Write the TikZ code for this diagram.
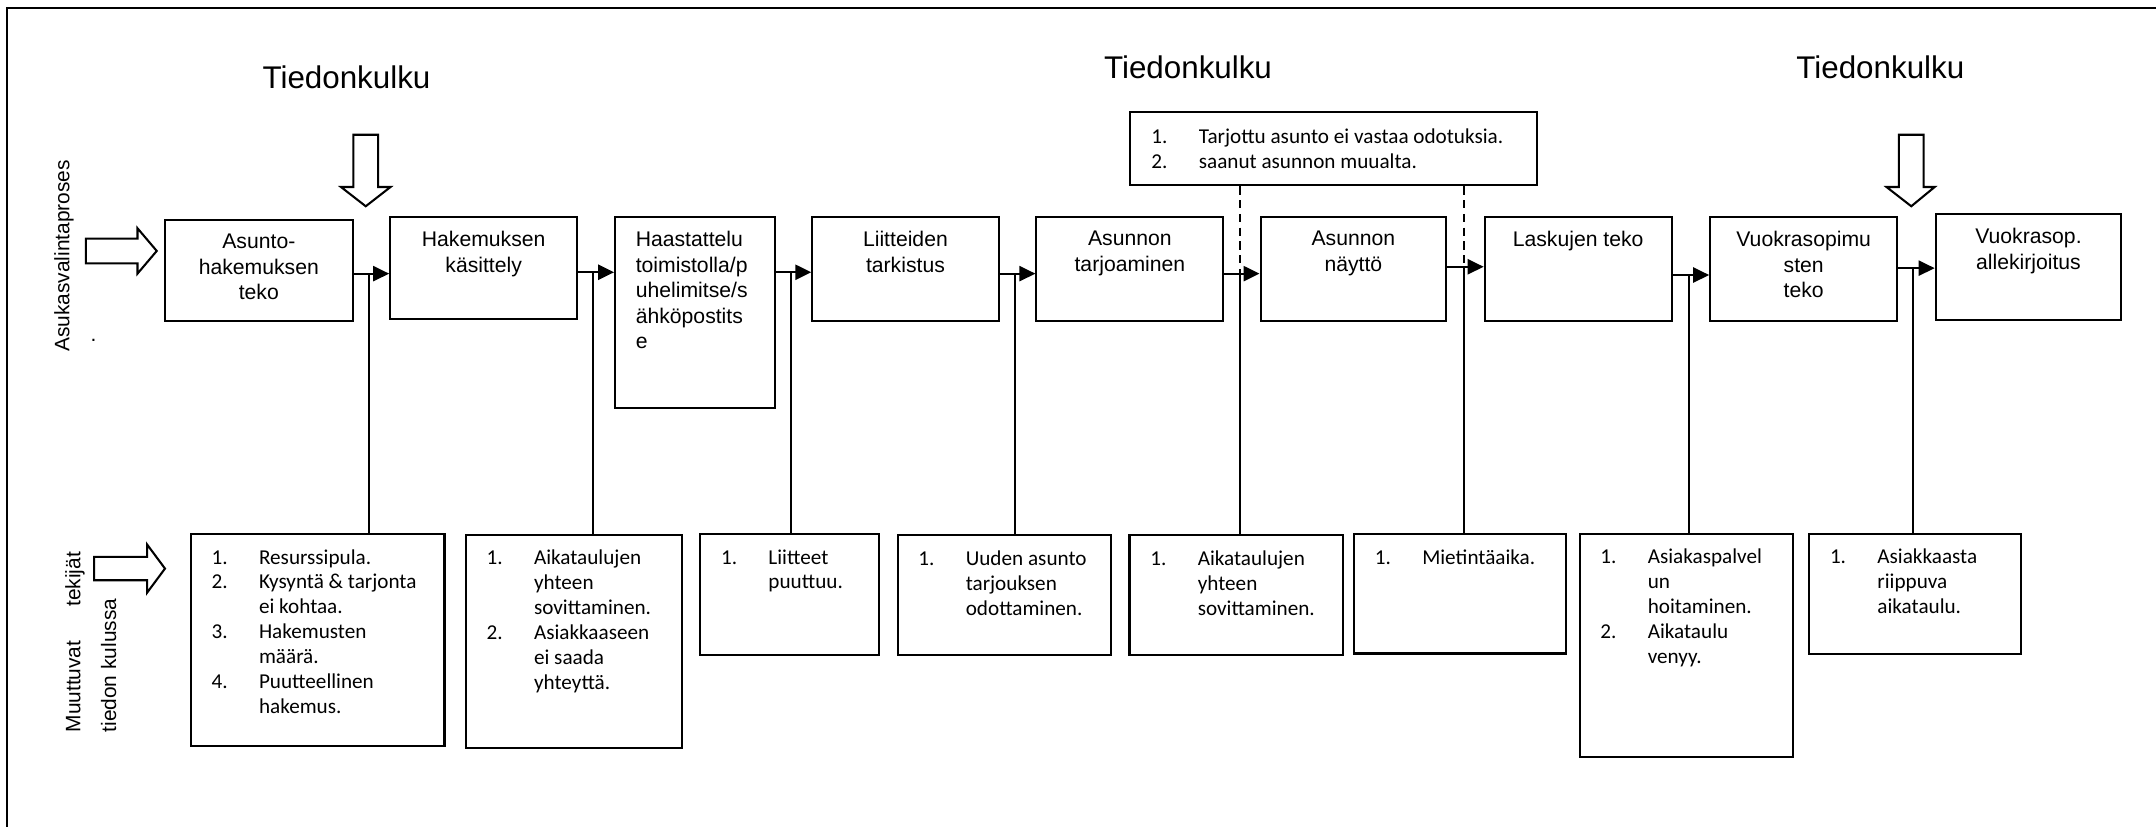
\documentclass[tikz,border=0pt]{standalone}
\usepackage{fontspec}
\setmainfont{Liberation Sans}
\newfontfamily\calibri{Carlito}
\usetikzlibrary{arrows.meta}
\newcommand{\toptxt}{\fontsize{7.7}{9.3}\selectfont}
\newcommand{\listtxt}{\calibri\fontsize{7.7}{9.05}\selectfont}
\newcommand{\points}[1]{\begin{tabular}{@{}p{17.25pt}@{}l@{}}#1\end{tabular}}
\begin{document}
\begin{tikzpicture}[x=0.5pt, y=-0.5pt,
    box/.style={draw, line width=0.75pt, anchor=north west, inner sep=0pt},
    boxtxt/.style={anchor=north, align=center, font=\toptxt, inner xsep=0pt, inner ysep=5.4pt},
    lefttxt/.style={anchor=north west, align=left, font=\toptxt, inner xsep=7.7pt, inner ysep=5.4pt},
    listtxt/.style={anchor=north west, font=\listtxt, inner xsep=7.75pt, inner ysep=4.8pt},
    flow/.style={line width=0.75pt, -{Triangle[length=5.8pt,width=5.5pt]}},
    hollow/.style={draw, line width=0.75pt, fill=white},
    title/.style={font=\fontsize{11.4}{13}\selectfont, anchor=base, inner sep=0pt},
    side/.style={font=\fontsize{7.6}{13}\selectfont, rotate=90, inner sep=0pt}]
  \useasboundingbox (0,0) rectangle (1568,601);
  \draw[line width=0.85pt] (5,6) rectangle (1620,650);

  \node[title] (tk1) at (252,64) {Tiedonkulku};
  \node[title] (tk2) at (864,57) {Tiedonkulku};
  \node[title] (tk3) at (1367.5,57) {Tiedonkulku};

  \node[side] (prosessi) at (46.5,186) {Asukasvalintaproses};
  \node[side, anchor=north west, align=left] (muuttuvat) at (47,533)
    {Muuttuvat\hspace{12.3pt}tekijät\\tiedon kulussa};
  \node[font=\fontsize{7.6}{9}\selectfont, anchor=base, inner sep=0pt] (piste) at (68,248) {.};

  % prosessin vaiheet
  \node[box, minimum width=68.5pt, minimum height=37pt,
    label={[boxtxt]north:Asunto-\\hakemuksen\\teko}] (p1) at (119,159) {};
  \node[box, minimum width=68pt, minimum height=37pt,
    label={[boxtxt]north:Hakemuksen\\käsittely}] (p2) at (283,157) {};
  \node[box, minimum width=58.2pt, minimum height=69.5pt,
    label={[lefttxt]north west:Haastattelu\\toimistolla/p\\uhelimitse/s\\ähköpostits\\e}] (p3) at (446.6,157) {};
  \node[box, minimum width=67.75pt, minimum height=38pt,
    label={[boxtxt]north:Liitteiden\\tarkistus}] (p4) at (590,157) {};
  \node[box, minimum width=68pt, minimum height=38pt,
    label={[boxtxt]north:Asunnon\\tarjoaminen}] (p5) at (753,157) {};
  \node[box, minimum width=67.5pt, minimum height=38pt,
    label={[boxtxt]north:Asunnon\\näyttö}] (p6) at (916,157) {};
  \node[box, minimum width=68pt, minimum height=38pt,
    label={[boxtxt]north:Laskujen teko}] (p7) at (1079,157) {};
  \node[box, minimum width=68pt, minimum height=38pt,
    label={[boxtxt]north:Vuokrasopimu\\sten\\teko}] (p8) at (1243,157) {};
  \node[box, minimum width=67.5pt, minimum height=38.5pt,
    label={[boxtxt]north:Vuokrasop.\\allekirjoitus}] (p9) at (1407,155) {};

  \node[box, minimum width=148pt, minimum height=26.5pt,
    label={[listtxt, inner xsep=8pt, inner ysep=5.1pt]north west:{\points{1.&Tarjottu asunto ei vastaa odotuksia.\\2.&saanut asunnon muualta.}}}] (peruutus) at (821,81) {};

  % muuttuvat tekijat
  \node[box, minimum width=92.25pt, minimum height=77.25pt,
    label={[listtxt]north west:{\points{1.&Resurssipula.\\2.&Kysyntä \& tarjonta\\&ei kohtaa.\\3.&Hakemusten\\&määrä.\\4.&Puutteellinen\\&hakemus.}}}] (m1) at (138,387.5) {};
  \node[box, minimum width=78.5pt, minimum height=77.5pt,
    label={[listtxt]north west:{\points{1.&Aikataulujen\\&yhteen\\&sovittaminen.\\2.&Asiakkaaseen\\&ei saada\\&yhteyttä.}}}] (m2) at (338,388) {};
  \node[box, minimum width=65pt, minimum height=44pt,
    label={[listtxt]north west:{\points{1.&Liitteet\\&puuttuu.}}}] (m3) at (508.5,387.5) {};
  \node[box, minimum width=77.5pt, minimum height=43.5pt,
    label={[listtxt]north west:{\points{1.&Uuden asunto\\&tarjouksen\\&odottaminen.}}}] (m4) at (652,388.5) {};
  \node[box, minimum width=77.5pt, minimum height=43.5pt,
    label={[listtxt]north west:{\points{1.&Aikataulujen\\&yhteen\\&sovittaminen.}}}] (m5) at (820.7,388.5) {};
  \node[box, minimum width=77pt, minimum height=43.5pt,
    label={[listtxt]north west:{\points{1.&Mietintäaika.}}}] (m6) at (984,387.5) {};
  \node[box, minimum width=77.5pt, minimum height=81.25pt,
    label={[listtxt]north west:{\points{1.&Asiakaspalvel\\&un\\&hoitaminen.\\2.&Aikataulu\\&venyy.}}}] (m7) at (1148,387.5) {};
  \node[box, minimum width=77pt, minimum height=43.75pt,
    label={[listtxt]north west:{\points{1.&Asiakkaasta\\&riippuva\\&aikataulu.}}}] (m8) at (1315,387.5) {};

  \coordinate (j1) at ([xshift=5.5pt,yshift=-20pt]p1.north east);
  \coordinate (j2) at ([xshift=5.5pt,yshift=-20.5pt]p2.north east);
  \coordinate (j3) at ([xshift=5.5pt,yshift=-20.5pt]p3.north east);
  \coordinate (j4) at ([xshift=5.5pt,yshift=-21pt]p4.north east);
  \coordinate (j5) at ([xshift=5.5pt,yshift=-21pt]p5.north east);
  \coordinate (j6) at ([xshift=6pt,yshift=-18.5pt]p6.north east);
  \coordinate (j7) at ([xshift=6pt,yshift=-21.5pt]p7.north east);
  \coordinate (j8) at ([xshift=5.5pt,yshift=-19pt]p8.north east);

  \begin{scope}[flow]
    \draw (p1.east |- j1) -- (j1 -| p2.west);
    \draw (p2.east |- j2) -- (j2 -| p3.west);
    \draw (p3.east |- j3) -- (j3 -| p4.west);
    \draw (p4.east |- j4) -- (j4 -| p5.west);
    \draw (p5.east |- j5) -- (j5 -| p6.west);
    \draw (p6.east |- j6) -- (j6 -| p7.west);
    \draw (p7.east |- j7) -- (j7 -| p8.west);
    \draw (p8.east |- j8) -- (j8 -| p9.west);
  \end{scope}
  \begin{scope}[line width=0.75pt]
    \draw (j1) -- (j1 |- m1.north);
    \draw (j2) -- (j2 |- m2.north);
    \draw (j3) -- (j3 |- m3.north);
    \draw (j4) -- (j4 |- m4.north);
    \draw (j5) -- (j5 |- m5.north);
    \draw (j6) -- (j6 |- m6.north);
    \draw (j7) -- (j7 |- m7.north);
    \draw (j8) -- (j8 |- m8.north);
    \draw[dash pattern=on 3pt off 2pt] (j5 |- peruutus.south) -- (j5);
    \draw[dash pattern=on 3pt off 2pt] (j6 |- peruutus.south) -- (j6);
  \end{scope}

  \draw[hollow] (62.5,173.5) -- (100,173.5) -- (100,166) -- (114,182.5) -- (100,199) -- (100,191.5) -- (62.5,191.5) -- cycle;
  \draw[hollow] (68.5,405) -- (107,405) -- (107,396) -- (120,413.5) -- (107,431) -- (107,422) -- (68.5,422) -- cycle;
  \draw[hollow] (257,98) -- (275,98) -- (275,136) -- (284,136) -- (266,150) -- (248,136) -- (257,136) -- cycle;
  \draw[hollow] (1381,98) -- (1399,98) -- (1399,136) -- (1407,136) -- (1390,150) -- (1372,136) -- (1381,136) -- cycle;
\end{tikzpicture}
\end{document}
